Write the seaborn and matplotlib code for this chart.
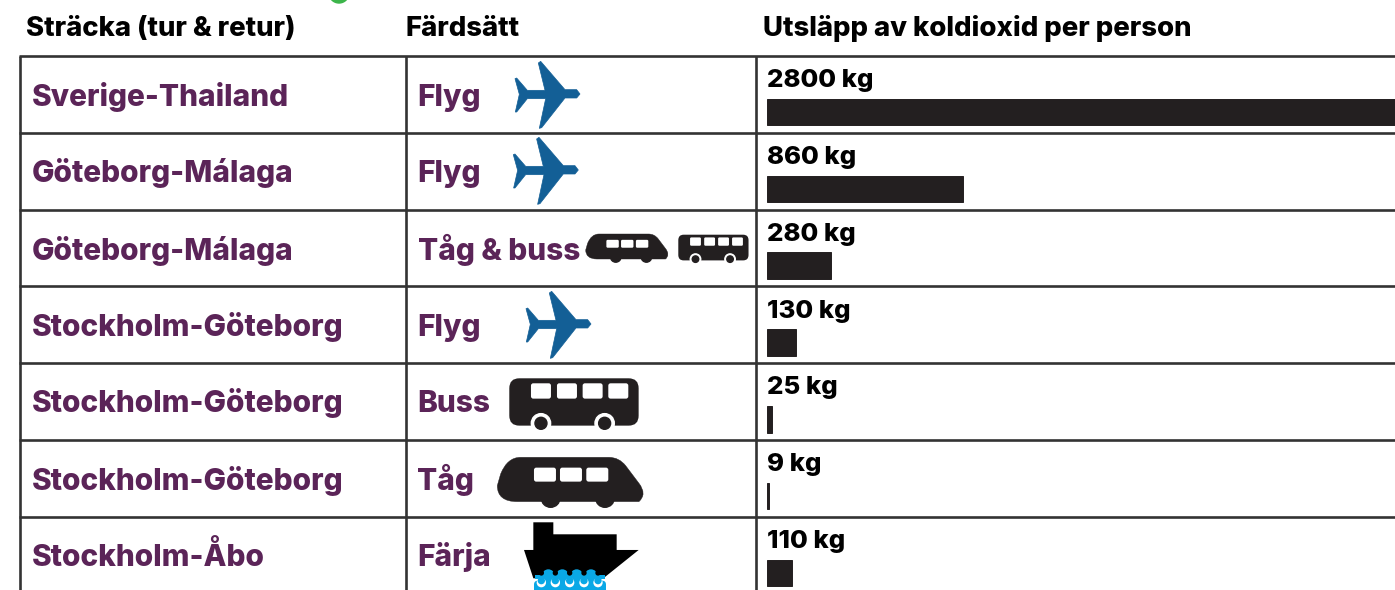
import matplotlib
matplotlib.use("Agg")
import matplotlib.pyplot as plt
import seaborn as sns
import pandas as pd
from matplotlib.path import Path
from matplotlib.patches import PathPatch, Polygon, Circle, FancyBboxPatch, Rectangle

routes = ["Sverige-Thailand", "Göteborg-Málaga", "Göteborg-Málaga", "Stockholm-Göteborg",
          "Stockholm-Göteborg", "Stockholm-Göteborg", "Stockholm-Åbo"]
modes = ["Flyg", "Flyg", "Tåg & buss", "Flyg", "Buss", "Tåg", "Färja"]
emissions = [2800, 860, 280, 130, 25, 9, 110]
headers = ["Sträcka (tur & retur)", "Färdsätt", "Utsläpp av koldioxid per person"]

W, H = 1395, 590
FONT = "Inter"
PURPLE = "#5b2458"
DARK = "#231f20"
BLUE = "#135f96"
LINE = "#333333"
CYAN = "#0aa8e6"

sns.set_theme(style="white")
plt.rcParams["font.family"] = [FONT, "DejaVu Sans"]

fig = plt.figure(figsize=(W / 100, H / 100), dpi=100, facecolor="white")

# bars
top, left = 56, 766.5
step = 76.83
first = 112
bar_ax = fig.add_axes([left / W, 0, (W - left) / W, (H - top) / H])
df = pd.DataFrame({"row": [f"{r} {m}" for r, m in zip(routes, modes)], "kg": emissions})
sns.barplot(data=df, x="kg", y="row", order=df["row"], color=DARK, saturation=1,
            width=26.5 / step, ax=bar_ax, edgecolor=DARK, linewidth=0.7)
bar_ax.set_xlim(0, (W - left) / 0.229)
bar_ax.set_ylim((H - first) / step, (top - first) / step)
bar_ax.axis("off")
bar_ax.patch.set_alpha(0)
for i, v in enumerate(emissions):
    bar_ax.text(0.5, i - 0.325, f"{v} kg", fontsize=18.6, fontweight=800, color="black",
                ha="left", va="baseline", clip_on=False)

# pixel overlay
ov = fig.add_axes([0, 0, 1, 1], zorder=-1)
ov.set_xlim(0, W)
ov.set_ylim(H, 0)
ov.axis("off")

for y in [56, 132.8, 209.7, 286, 363, 440, 516.8]:
    ov.plot([19, W], [y, y], color=LINE, lw=1.9, solid_capstyle="butt")
for x in [20, 405.9, 756.4]:
    ov.plot([x, x], [56, H], color=LINE, lw=1.9, solid_capstyle="butt")

for x, t in zip([26, 405.5, 763], headers):
    ov.text(x, 36, t, fontsize=19.8, fontweight=800, color="black", ha="left", va="baseline")

row_y = [105.5, 182.5, 259.5, 336.5, 412.5, 489.5, 566.5]
for y, r, m in zip(row_y, routes, modes):
    ov.text(31.5, y, r, fontsize=21.5, fontweight=800, color=PURPLE, ha="left", va="baseline")
    ov.text(417.5, y, m, fontsize=21.5, fontweight=800, color=PURPLE, ha="left", va="baseline")

# green mark at the very top
ov.add_patch(Circle((339, -7), 10, color="#3cb54a", clip_on=True))


def plane(x0, y0):
    pts = [(0, -46), (5, -48), (37, -11), (90, -11), (70, -93), (77, -98), (150, -13),
           (185, -13), (195, 0), (185, 12), (150, 12), (80, 101), (73, 103), (92, 14),
           (37, 14), (5, 54), (1, 54), (13, 1)]
    ov.add_patch(Polygon([(x0 + a / 3, y0 + b / 3) for a, b in pts], closed=True,
                         facecolor=BLUE, edgecolor=BLUE, lw=0.5, joinstyle="round"))


def train(x0, y0, s):
    """s scales px per reference unit; origin is the train's left/top corner."""
    def P(a, b):
        return (x0 + a * s, y0 + b * s)
    codes = [Path.MOVETO, Path.LINETO, Path.CURVE3, Path.CURVE3, Path.LINETO, Path.CURVE3, Path.CURVE3,
             Path.LINETO, Path.CURVE3, Path.CURVE3, Path.LINETO, Path.CURVE3, Path.CURVE3, Path.CLOSEPOLY]
    verts = [P(70, 0), P(335, 0), P(365, 0), P(385, 25), P(425, 78), P(450, 110), P(425, 133),
             P(60, 133), P(0, 133), P(0, 85), P(10, 50), P(30, 0), P(70, 0), P(70, 0)]
    ov.add_patch(PathPatch(Path(verts, codes), facecolor=DARK, edgecolor=DARK, lw=0.3))
    for cx in (160, 323):
        ov.add_patch(Circle(P(cx, 122), 28 * s, color=DARK))
    for wx in (110, 188, 267):
        a, b = P(wx, 31)
        ov.add_patch(FancyBboxPatch((a, b), 66 * s, 42 * s, boxstyle=f"round,pad=0,rounding_size={7 * s}",
                                    facecolor="white", edgecolor="none"))


def bus(x0, y0, s):
    def P(a, b):
        return (x0 + a * s, y0 + b * s)
    a, b = P(0, 0)
    ov.add_patch(FancyBboxPatch((a, b), 388 * s, 142 * s, boxstyle=f"round,pad=0,rounding_size={30 * s}",
                                facecolor=DARK, edgecolor="none"))
    for wx in (65, 143, 220, 297):
        a, b = P(wx, 15)
        ov.add_patch(FancyBboxPatch((a, b), 60 * s, 46 * s, boxstyle=f"round,pad=0,rounding_size={7 * s}",
                                    facecolor="white", edgecolor="none"))
    for cx in (95, 286):
        ov.add_patch(Circle(P(cx, 135), 29 * s, color="white", zorder=3))
        ov.add_patch(Circle(P(cx, 135), 18 * s, color=DARK, zorder=4))


def ferry(x0, y0, s):
    def P(a, b):
        return (x0 + a * s, y0 + b * s)
    hull = [(28, 0), (88, 0), (88, 36), (278, 36), (278, 83), (344, 83), (238, 168), (28, 168), (0, 83), (28, 83)]
    ov.add_patch(Polygon([P(a, b) for a, b in hull], closed=True, facecolor="black", edgecolor="none"))
    humps = [73, 115, 158, 201]
    troughs = [52, 94, 137, 180, 222]
    # upper wave
    a, b = P(32, 158)
    ov.add_patch(Rectangle((a, b), 212 * s, 12 * s, facecolor=CYAN, edgecolor="none", zorder=3))
    for h in humps:
        ov.add_patch(Circle(P(h, 160), 19 * s, facecolor=CYAN, edgecolor="none", zorder=3))
    for t in troughs:
        ov.add_patch(Circle(P(t, 152), 8 * s, facecolor="black", edgecolor="none", zorder=4))
    # lower wave, separated from the upper one by a thin white gap
    a, b = P(30, 175)
    ov.add_patch(FancyBboxPatch((a, b), 216 * s, 40 * s, boxstyle=f"round,pad=0,rounding_size={12 * s}",
                                facecolor=CYAN, edgecolor="none", zorder=3))
    for t in troughs:
        ov.add_patch(Circle(P(t, 181), 14 * s, facecolor="white", edgecolor="none", zorder=4))
        ov.add_patch(Circle(P(t, 175), 11 * s, facecolor=CYAN, edgecolor="none", zorder=5))


plane(515, 94)
plane(513.3, 170)
plane(526, 324)
train(497.3, 457.3, 1 / 3)
bus(509.3, 378.3, 1 / 3)
train(585.7, 234, 0.188)
bus(678.3, 234.7, 0.181)
ferry(524, 522.3, 1 / 3)

fig.savefig("out.png", dpi=100, facecolor="white")
